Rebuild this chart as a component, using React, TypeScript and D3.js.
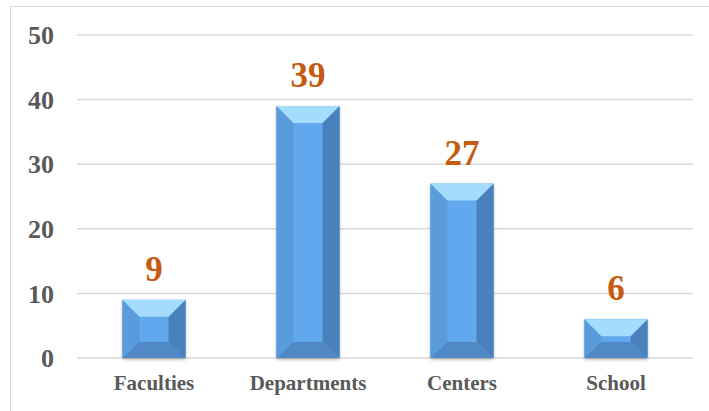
import React from "react";
import * as d3 from "d3";

const categories = ["Faculties", "Departments", "Centers", "School"];
const values = [9, 39, 27, 6];
const yTicks = [0, 10, 20, 30, 40, 50];

const W = 709;
const H = 411;
const margin = { top: 35, right: 16, bottom: 53, left: 77 };

export default function App() {
  const x = d3
    .scaleBand<string>()
    .domain(categories)
    .range([margin.left, W - margin.right])
    .paddingInner(0.59)
    .paddingOuter(0.295);
  const y = d3.scaleLinear().domain([0, 50]).range([H - margin.bottom, margin.top]);

  const font = "'Liberation Serif', 'Times New Roman', serif";

  return (
    <svg
      width={W}
      height={H}
      style={{ position: "absolute", left: 0, top: 0, background: "#fff" }}
    >
      <defs>
        <filter id="sh" x="-20%" y="-20%" width="140%" height="140%">
          <feDropShadow dx="0" dy="1.5" stdDeviation="1.5" floodColor="#000" floodOpacity="0.3" />
        </filter>
      </defs>
      <rect x={10.5} y={6.5} width={W + 10} height={H + 10} fill="none" stroke="#d9d9d9" strokeWidth={1} />

      {yTicks.map((t) => (
        <g key={t}>
          <line
            x1={margin.left}
            x2={W - margin.right}
            y1={y(t)}
            y2={y(t)}
            stroke="#d9d9d9"
            strokeWidth={1.5}
          />
          <text
            x={54}
            y={y(t)}
            dy="0.35em"
            textAnchor="end"
            fontFamily={font}
            fontWeight="bold"
            fontSize={26}
            fill="#595959"
          >
            {t}
          </text>
        </g>
      ))}

      {categories.map((c, i) => {
        const x0 = x(c)!;
        const bw = x.bandwidth();
        const x1 = x0 + bw;
        const yt = y(values[i]);
        const yb = y(0);
        const h = yb - yt;
        const b = Math.min(17, h / 2 - 2);
        const bx = 17;
        const ix0 = x0 + bx;
        const ix1 = x1 - bx;
        const iyt = yt + b;
        const iyb = yb - Math.min(16, h / 2 - 2);
        return (
          <g key={c}>
            <g filter="url(#sh)">
              <rect x={x0} y={yt} width={bw} height={h} fill="#5fa3e6" />
            </g>
            <rect x={ix0} y={iyt} width={ix1 - ix0} height={iyb - iyt} fill="#62a8ec" />
            <polygon points={`${x0},${yt} ${ix0},${iyt} ${ix0},${iyb} ${x0},${yb}`} fill="#5a9bdb" />
            <polygon points={`${x1},${yt} ${ix1},${iyt} ${ix1},${iyb} ${x1},${yb}`} fill="#4a80bb" />
            <polygon points={`${x0},${yb} ${ix0},${iyb} ${ix1},${iyb} ${x1},${yb}`} fill="#5188c6" />
            <polygon points={`${x0},${yt} ${x1},${yt} ${ix1},${iyt} ${ix0},${iyt}`} fill="#a3dcfd" />
            <text
              x={x0 + bw / 2}
              y={yt - 19}
              textAnchor="middle"
              fontFamily={font}
              fontWeight="bold"
              fontSize={35}
              fill="#c55a11"
            >
              {values[i]}
            </text>
            <text
              x={x0 + bw / 2}
              y={y(0) + 32}
              textAnchor="middle"
              fontFamily={font}
              fontWeight="bold"
              fontSize={21}
              fill="#595959"
            >
              {c}
            </text>
          </g>
        );
      })}
    </svg>
  );
}
